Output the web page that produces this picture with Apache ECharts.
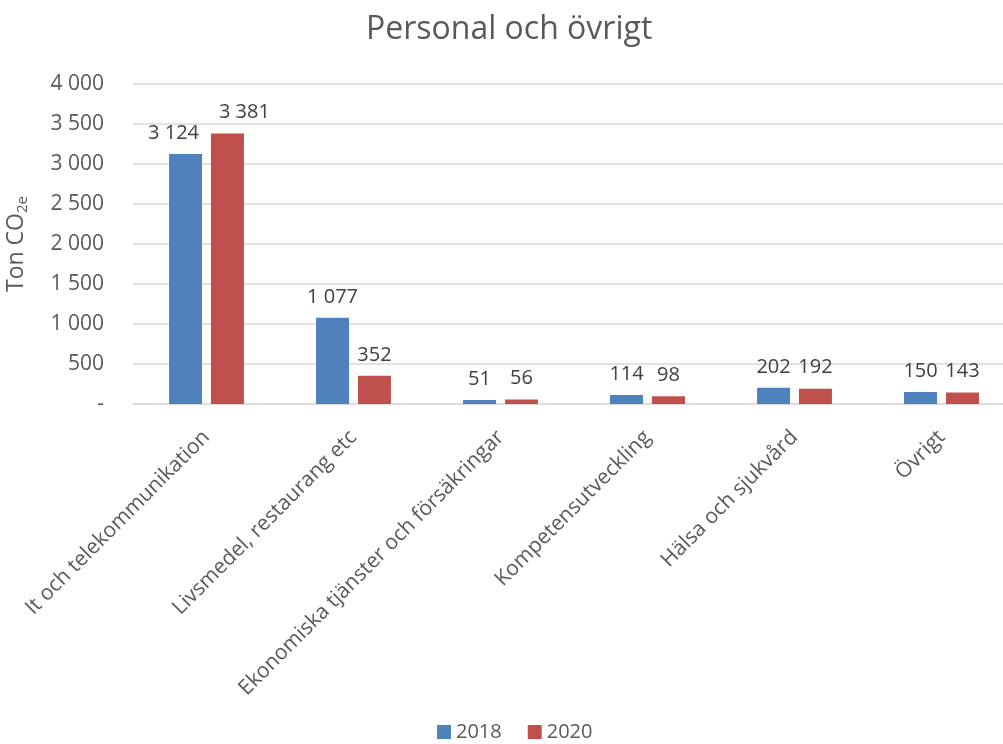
<!DOCTYPE html>
<html>
<head>
<meta charset="utf-8">
<script src="https://cdn.jsdelivr.net/npm/echarts@6/dist/echarts.min.js"></script>
<style>
  html, body { margin: 0; padding: 0; background: #fff; }
  #chart { width: 1003px; height: 744px; }
</style>
</head>
<body>
<div id="chart"></div>
<script>
// kategorier och värden (ton CO2e)
const categories = [
  'It och telekommunikation',
  'Livsmedel, restaurang etc',
  'Ekonomiska tjänster och försäkringar',
  'Kompetensutveckling',
  'Hälsa och sjukvård',
  'Övrigt',
];
const years = ['2018', '2020'];
const values2018 = [3124, 1077, 51, 114, 202, 150];
const values2020 = [3381, 352, 56, 98, 192, 143];
const yTicks = [0, 500, 1000, 1500, 2000, 2500, 3000, 3500, 4000];

const font = '"Open Sans", "Noto Sans", sans-serif';

// tusental med mellanslag, 0 visas som "-"
function fmt(v) {
  if (v === 0) return '-';
  return String(v).replace(/\B(?=(\d{3})+(?!\d))/g, ' ');
}

function makeData(values, shiftFirst) {
  return values.map((v, i) => {
    if (i === 0) {
      return { value: v, label: { offset: [shiftFirst, 0] } };
    }
    return v;
  });
}

const chart = echarts.init(document.getElementById('chart'));

const labelStyle = {
  show: true,
  position: 'top',
  distance: 11,
  fontFamily: font,
  fontSize: 20,
  color: '#404040',
  formatter: p => fmt(p.value),
};

chart.setOption({
  animation: false,
  textStyle: { fontFamily: font },
  title: {
    text: 'Personal och övrigt',
    left: 361,
    top: 9,
    textStyle: {
      fontFamily: font,
      fontSize: 32,
      fontWeight: 'normal',
      color: '#595959',
    },
  },
  legend: {
    bottom: -3,
    left: 432,
    icon: 'rect',
    itemWidth: 14,
    itemHeight: 14,
    itemGap: 26,
    textStyle: { fontFamily: font, fontSize: 20, color: '#595959' },
    data: years,
  },
  grid: {
    left: 133,
    top: 84,
    width: 882,
    bottom: 340,
    outerBoundsMode: 'none',
  },
  xAxis: {
    type: 'category',
    data: categories,
    axisLine: { lineStyle: { color: '#d9d9d9', width: 1.5 } },
    axisTick: { show: false },
    axisLabel: {
      rotate: 45,
      interval: 0,
      margin: 30,
      fontFamily: font,
      fontSize: 21,
      color: '#595959',
    },
  },
  yAxis: {
    type: 'value',
    min: yTicks[0],
    max: yTicks[yTicks.length - 1],
    interval: yTicks[1] - yTicks[0],
    name: '{a|Ton CO}{b|2e}',
    nameLocation: 'middle',
    nameGap: 103,
    nameRotate: 90,
    nameTextStyle: {
      rich: {
        a: { fontFamily: font, fontSize: 23, color: '#595959' },
        b: { fontFamily: font, fontSize: 15, color: '#595959', padding: [12, 0, 0, 0] },
      },
    },
    axisLine: { show: false },
    axisTick: { show: false },
    splitLine: { lineStyle: { color: '#d9d9d9', width: 1.5 } },
    axisLabel: {
      margin: 29,
      fontFamily: font,
      fontSize: 21,
      color: '#595959',
      formatter: v => fmt(v),
    },
  },
  series: [
    {
      name: years[0],
      type: 'bar',
      barWidth: 33,
      barGap: '27%',
      itemStyle: { color: '#4f81bd' },
      label: labelStyle,
      data: makeData(values2018, -12),
    },
    {
      name: years[1],
      type: 'bar',
      barWidth: 33,
      barGap: '27%',
      itemStyle: { color: '#c0504d' },
      label: labelStyle,
      data: makeData(values2020, 17),
    },
  ],
});
</script>
</body>
</html>
